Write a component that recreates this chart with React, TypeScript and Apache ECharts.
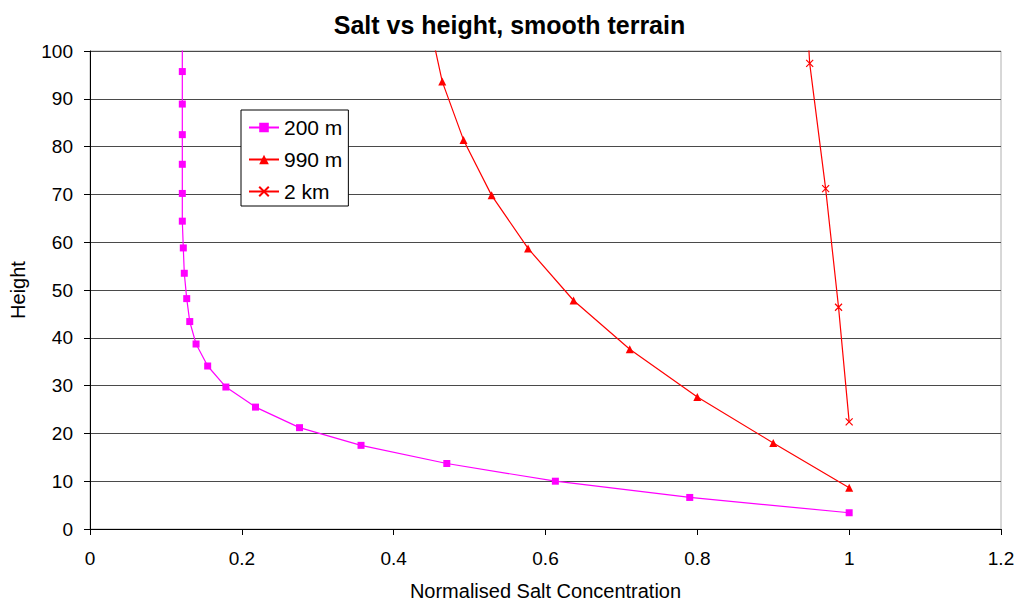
import React, { useEffect, useRef } from "react";
import * as echarts from "echarts";

// Normalised salt concentration (x) vs height (y)
const conc200 = [1.0, 0.79, 0.613, 0.47, 0.357, 0.276, 0.218, 0.179, 0.155, 0.1397, 0.1314, 0.1274, 0.1242, 0.1229, 0.1216, 0.1216, 0.1216, 0.1216, 0.1216, 0.1216, 0.1216];
const height200 = [3.4, 6.6, 10.0, 13.7, 17.5, 21.2, 25.5, 29.7, 34.1, 38.7, 43.4, 48.2, 53.5, 58.8, 64.4, 70.2, 76.3, 82.5, 88.9, 95.7, 102.5];

const conc990 = [1.0, 0.9, 0.8, 0.711, 0.637, 0.577, 0.529, 0.492, 0.464, 0.447];
const height990 = [8.65, 18.0, 27.6, 37.6, 47.8, 58.7, 69.8, 81.4, 93.6, 106];

const conc2km = [1.0, 0.986, 0.969, 0.948, 0.939];
const height2km = [22.4, 46.4, 71.2, 97.4, 122];

const seriesNames = ["200 m", "990 m", "2 km"];
const xTicks = { min: 0, max: 1.2, interval: 0.2 };
const yTicks = { min: 0, max: 100, interval: 10 };

const FONT = "Liberation Sans, Arial, sans-serif";

function pairs(xs: number[], ys: number[]) {
  // last point lies above the plot top (clipped), shown without marker
  return xs.map((x, i) =>
    i === xs.length - 1 ? { value: [x, ys[i]], symbol: "none" } : { value: [x, ys[i]] }
  );
}

export default function App() {
  const ref = useRef<HTMLDivElement>(null);
  useEffect(() => {
    if (!ref.current) return;
    const chart = echarts.init(ref.current, undefined, { renderer: "svg" });
    chart.setOption({
      animation: false,
      backgroundColor: "#ffffff",
      title: {
        text: "Salt vs height, smooth terrain",
        left: "center",
        top: 7,
        textStyle: { fontFamily: FONT, fontSize: 25, fontWeight: "bold", color: "#000" },
      },
      grid: {
        left: 90,
        right: 18,
        top: 51,
        bottom: 73,
        show: true,
        borderColor: "#b0b0b0",
        borderWidth: 1,
        backgroundColor: "transparent",
      },
      legend: {
        orient: "vertical",
        left: 241,
        top: 110,
        data: seriesNames,
        backgroundColor: "#fff",
        borderColor: "#000",
        borderWidth: 1,
        padding: [7, 6, 4, 7],
        itemWidth: 30,
        itemHeight: 12,
        itemGap: 11,
        textStyle: { fontFamily: FONT, fontSize: 21, color: "#000", lineHeight: 21 },
      },
      xAxis: {
        type: "value",
        min: xTicks.min,
        max: xTicks.max,
        interval: xTicks.interval,
        name: "Normalised Salt Concentration",
        nameLocation: "middle",
        nameGap: 52,
        nameTextStyle: { fontFamily: FONT, fontSize: 20, color: "#000" },
        axisLine: { show: true, onZero: false, lineStyle: { color: "#000", width: 1 } },
        axisTick: { show: true, length: 6, inside: false, lineStyle: { color: "#000" } },
        axisLabel: { fontFamily: FONT, fontSize: 19, color: "#000", margin: 20 },
        splitLine: { show: false },
      },
      yAxis: {
        type: "value",
        min: yTicks.min,
        max: yTicks.max,
        interval: yTicks.interval,
        name: "Height",
        nameLocation: "middle",
        nameGap: 62,
        nameRotate: 90,
        nameTextStyle: { fontFamily: FONT, fontSize: 20, color: "#000" },
        axisLine: { show: true, onZero: false, lineStyle: { color: "#000", width: 1 } },
        axisTick: { show: true, length: 6, inside: false, lineStyle: { color: "#000" } },
        axisLabel: { fontFamily: FONT, fontSize: 19, color: "#000", margin: 17 },
        splitLine: { show: true, lineStyle: { color: "#4a4a4a", width: 1.2 } },
      },
      series: [
        {
          name: seriesNames[0],
          type: "line",
          data: pairs(conc200, height200),
          symbol: "rect",
          symbolSize: 7,
          showAllSymbol: true,
          clip: true,
          color: "#ff00ff",
          lineStyle: { color: "#ff00ff", width: 1.2 },
          itemStyle: { color: "#ff00ff" },
          z: 3,
        },
        {
          name: seriesNames[1],
          type: "line",
          data: pairs(conc990, height990),
          symbol: "triangle",
          symbolSize: 8,
          showAllSymbol: true,
          clip: true,
          color: "#ff0000",
          lineStyle: { color: "#ff0000", width: 1.2 },
          itemStyle: { color: "#ff0000" },
          z: 4,
        },
        {
          name: seriesNames[2],
          type: "line",
          data: pairs(conc2km, height2km),
          symbol: "path://M0,0L10,10M0,10L10,0",
          symbolSize: 7,
          showAllSymbol: true,
          clip: true,
          color: "#ff0000",
          lineStyle: { color: "#ff0000", width: 1.2 },
          itemStyle: { color: "#ff0000", borderColor: "#ff0000", borderWidth: 1.2 },
          z: 5,
        },
      ],
    });
    return () => chart.dispose();
  }, []);
  return (
    <div
      ref={ref}
      style={{ position: "fixed", left: 0, top: 0, width: 1019, height: 606, background: "#fff" }}
    />
  );
}
